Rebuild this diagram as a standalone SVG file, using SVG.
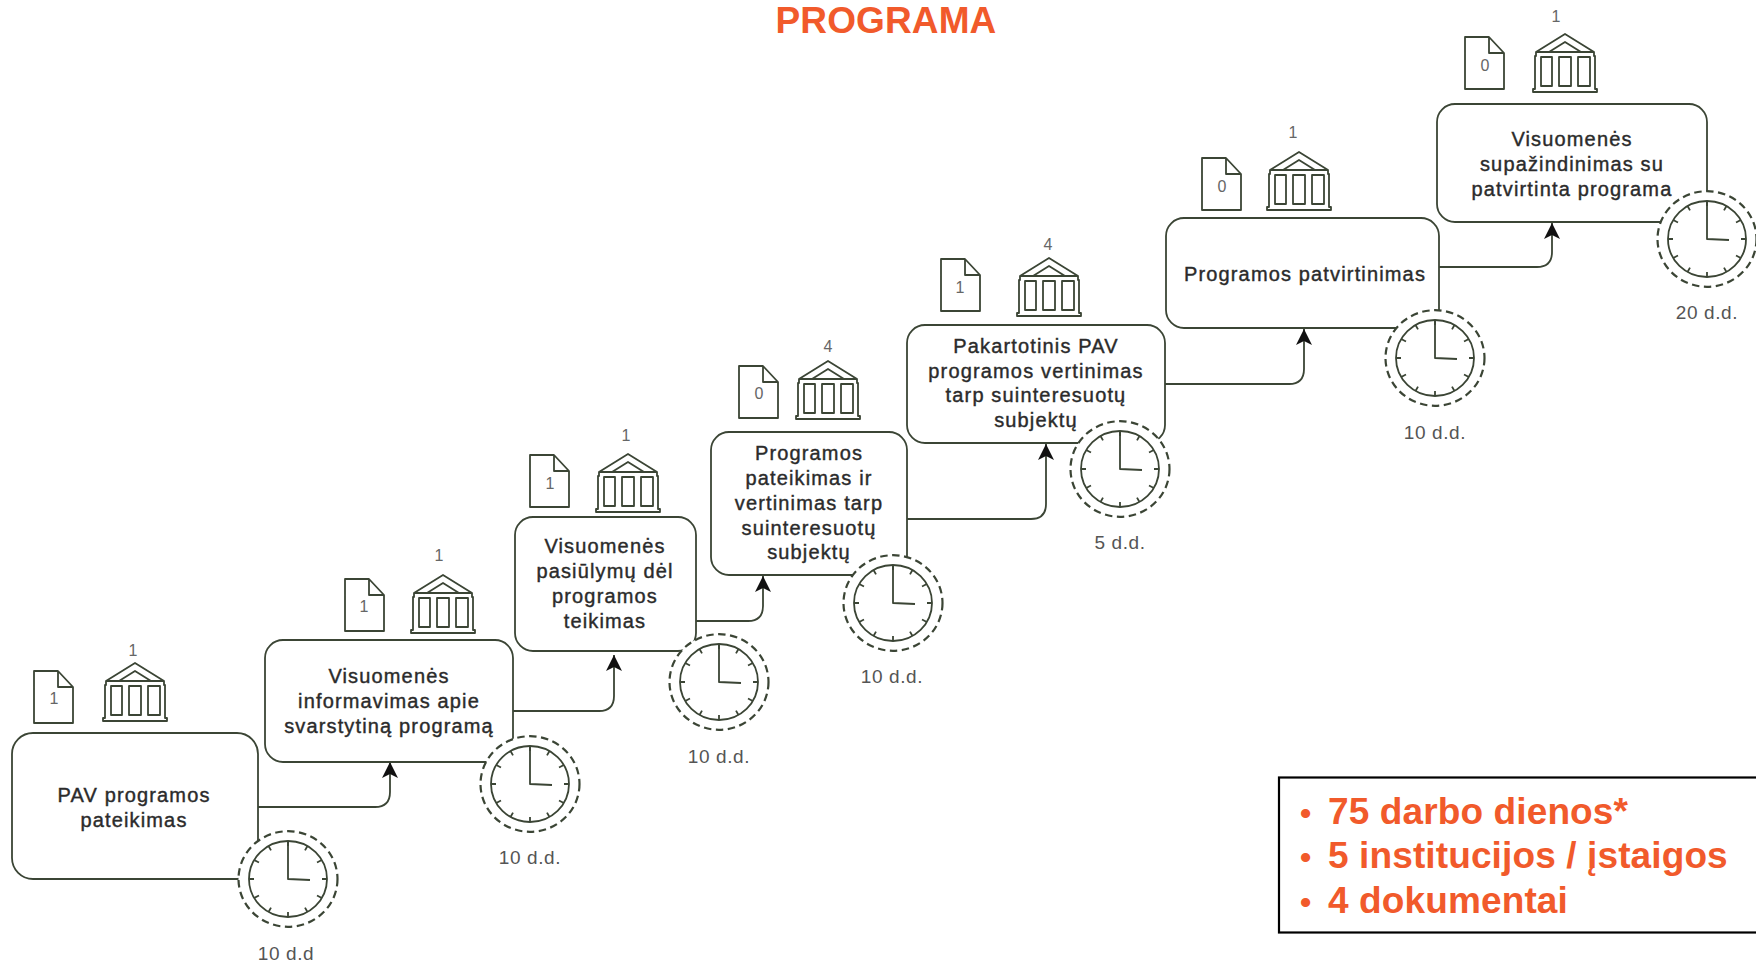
<svg xmlns="http://www.w3.org/2000/svg" xmlns:xlink="http://www.w3.org/1999/xlink" width="1756" height="963" viewBox="0 0 1756 963">
<style>
text{font-family:"Liberation Sans",Arial,sans-serif}
.box{fill:#fff;stroke:#3b4535;stroke-width:1.8}
.line{fill:none;stroke:#3b4535;stroke-width:1.8}
.ic{fill:none;stroke:#3b4535;stroke-width:1.8;stroke-linejoin:round}
.t{font-size:20px;letter-spacing:1.15px;fill:#2b2b2b;text-anchor:middle;stroke:#2b2b2b;stroke-width:.4}
.n{font-size:16px;fill:#666;text-anchor:middle}
.d{font-size:19px;letter-spacing:.6px;fill:#555;text-anchor:middle}
.o{font-weight:bold;fill:#f15a2b;font-size:37px;letter-spacing:.12px}
.b{font-weight:bold;fill:#f15a2b;font-size:32px}
</style>
<defs>
<marker id="arr" markerUnits="userSpaceOnUse" markerWidth="18" markerHeight="18" refX="17" refY="8" orient="auto" viewBox="0 0 18 16"><path d="M17 8 L1 0 L5 8 L1 16 Z" fill="#111"/></marker>
<g id="clock">
<ellipse rx="49.5" ry="47.8" fill="#fff" stroke="#3b4535" stroke-width="2.2" stroke-dasharray="7.5 4.5"/>
<ellipse rx="39" ry="38" fill="#fff" class="ic"/>
<path class="ic" d="M0-38V-33M19.5-33L17-28.6M33.8-19L29-16.5M39 0H34M33.8 19L29 16.5M19.5 33L17 28.6M0 38V33M-19.5 33L-17 28.6M-33.8 19L-29 16.5M-39 0H-34M-33.8-19L-29-16.5M-19.5-33L-17-28.6"/>
<path class="ic" d="M0-37V0L22 1" stroke-width="2.2"/>
</g>
<g id="bank">
<path class="ic" d="M32 0L3 18V22H2V55H0V58H64V55H62V22H61V18ZM16 18L32 8L48 18ZM3 18H61"/>
<rect class="ic" x="8" y="23" width="11" height="29"/>
<rect class="ic" x="26" y="23" width="12" height="29"/>
<rect class="ic" x="45" y="23" width="12" height="29"/>
</g>
<path id="doc" class="ic" d="M0 0H24L39 16V52H0ZM24 0V16H39"/>
</defs>

<text x="886" y="33" text-anchor="middle" class="o">PROGRAMA</text>

<g id="connectors">
<path class="line" marker-end="url(#arr)" d="M258 807H375Q390 807 390 792V762"/>
<path class="line" marker-end="url(#arr)" d="M513 711H599Q614 711 614 696V655"/>
<path class="line" marker-end="url(#arr)" d="M696 621H748Q763 621 763 606V576"/>
<path class="line" marker-end="url(#arr)" d="M907 519H1031Q1046 519 1046 504V444"/>
<path class="line" marker-end="url(#arr)" d="M1165 384H1289Q1304 384 1304 369V329"/>
<path class="line" marker-end="url(#arr)" d="M1439 267H1537Q1552 267 1552 252V223"/>
</g>

<g id="node1">
<rect class="box" x="12" y="733" width="246" height="146" rx="21"/>
<text class="t" x="134" y="802">PAV programos</text>
<text class="t" x="134" y="827">pateikimas</text>
<use href="#doc" x="34" y="671"/><text class="n" x="54" y="704">1</text>
<use href="#bank" x="103" y="663"/><text class="n" x="133" y="656">1</text>
<use href="#clock" x="288" y="879"/><text class="d" x="286" y="960">10 d.d</text>
</g>
<g id="node2">
<rect class="box" x="265" y="640" width="248" height="122" rx="18"/>
<text class="t" x="389" y="683">Visuomenės</text>
<text class="t" x="389" y="708">informavimas apie</text>
<text class="t" x="389" y="733">svarstytiną programą</text>
<use href="#doc" x="345" y="579"/><text class="n" x="364" y="612">1</text>
<use href="#bank" x="411" y="575"/><text class="n" x="439" y="561">1</text>
<use href="#clock" x="530" y="784"/><text class="d" x="530" y="864">10 d.d.</text>
</g>
<g id="node3">
<rect class="box" x="515" y="517" width="181" height="134" rx="18"/>
<text class="t" x="605" y="553">Visuomenės</text>
<text class="t" x="605" y="578">pasiūlymų dėl</text>
<text class="t" x="605" y="603">programos</text>
<text class="t" x="605" y="628">teikimas</text>
<use href="#doc" x="530" y="455"/><text class="n" x="550" y="489">1</text>
<use href="#bank" x="596" y="454"/><text class="n" x="626" y="441">1</text>
<use href="#clock" x="719" y="682"/><text class="d" x="719" y="763">10 d.d.</text>
</g>
<g id="node4">
<rect class="box" x="711" y="432" width="196" height="143" rx="18"/>
<text class="t" x="809" y="460">Programos</text>
<text class="t" x="809" y="485">pateikimas ir</text>
<text class="t" x="809" y="510">vertinimas tarp</text>
<text class="t" x="809" y="535">suinteresuotų</text>
<text class="t" x="809" y="559">subjektų</text>
<use href="#doc" x="739" y="366"/><text class="n" x="759" y="399">0</text>
<use href="#bank" x="796" y="361"/><text class="n" x="828" y="352">4</text>
<use href="#clock" x="893" y="603"/><text class="d" x="892" y="683">10 d.d.</text>
</g>
<g id="node5">
<rect class="box" x="907" y="325" width="258" height="118" rx="18"/>
<text class="t" x="1036" y="353">Pakartotinis PAV</text>
<text class="t" x="1036" y="378">programos vertinimas</text>
<text class="t" x="1036" y="402">tarp suinteresuotų</text>
<text class="t" x="1036" y="427">subjektų</text>
<use href="#doc" x="941" y="259"/><text class="n" x="960" y="293">1</text>
<use href="#bank" x="1017" y="258"/><text class="n" x="1048" y="250">4</text>
<use href="#clock" x="1120" y="469"/><text class="d" x="1120" y="549">5 d.d.</text>
</g>
<g id="node6">
<rect class="box" x="1166" y="218" width="273" height="110" rx="18"/>
<text class="t" x="1305" y="281">Programos patvirtinimas</text>
<use href="#doc" x="1202" y="158"/><text class="n" x="1222" y="192">0</text>
<use href="#bank" x="1267" y="152"/><text class="n" x="1293" y="138">1</text>
<use href="#clock" x="1435" y="358"/><text class="d" x="1435" y="439">10 d.d.</text>
</g>
<g id="node7">
<rect class="box" x="1437" y="104" width="270" height="118" rx="18"/>
<text class="t" x="1572" y="146">Visuomenės</text>
<text class="t" x="1572" y="171">supažindinimas su</text>
<text class="t" x="1572" y="196">patvirtinta programa</text>
<use href="#doc" x="1465" y="37"/><text class="n" x="1485" y="71">0</text>
<use href="#bank" x="1533" y="34"/><text class="n" x="1556" y="22">1</text>
<use href="#clock" x="1707" y="239"/><text class="d" x="1707" y="319">20 d.d.</text>
</g>
<g id="summary">
<rect x="1279" y="777.5" width="490" height="155" fill="#fff" stroke="#000" stroke-width="2.2"/>
<text class="b" x="1300" y="824">•</text><text class="o" x="1328" y="824">75 darbo dienos*</text>
<text class="b" x="1300" y="868">•</text><text class="o" x="1328" y="868">5 institucijos / įstaigos</text>
<text class="b" x="1300" y="913">•</text><text class="o" x="1328" y="913">4 dokumentai</text>
</g>
</svg>
